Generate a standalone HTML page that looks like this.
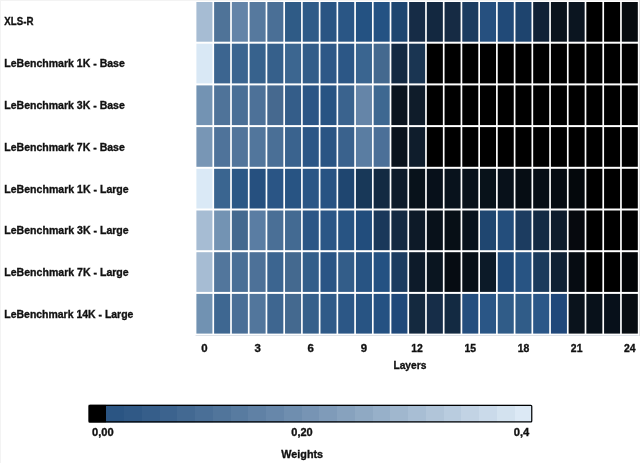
<!DOCTYPE html>
<html><head><meta charset="utf-8"><style>
html,body{margin:0;padding:0;background:#fff;width:640px;height:463px;overflow:hidden;font-family:"Liberation Sans",sans-serif;}
</style></head><body>
<svg width="640" height="463" style="position:absolute;left:0;top:0;will-change:transform">
<rect x="0" y="0" width="640" height="463" fill="#fff"/>
<rect x="0" y="0" width="1" height="463" fill="#f3f3f3"/>
<rect x="0" y="0" width="640" height="1" fill="#f3f3f3"/>
<rect x="196.40" y="2.00" width="16.03" height="39.70" fill="#a6bcd3"/>
<rect x="214.12" y="2.00" width="16.03" height="39.70" fill="#4f7398"/>
<rect x="231.85" y="2.00" width="16.03" height="39.70" fill="#6384a8"/>
<rect x="249.58" y="2.00" width="16.03" height="39.70" fill="#56799e"/>
<rect x="267.30" y="2.00" width="16.03" height="39.70" fill="#4a6f96"/>
<rect x="285.03" y="2.00" width="16.03" height="39.70" fill="#2f5b86"/>
<rect x="302.75" y="2.00" width="16.03" height="39.70" fill="#2f5b88"/>
<rect x="320.48" y="2.00" width="16.03" height="39.70" fill="#2a5583"/>
<rect x="338.20" y="2.00" width="16.03" height="39.70" fill="#2a5685"/>
<rect x="355.93" y="2.00" width="16.03" height="39.70" fill="#245282"/>
<rect x="373.65" y="2.00" width="16.03" height="39.70" fill="#245283"/>
<rect x="391.38" y="2.00" width="16.03" height="39.70" fill="#1e4670"/>
<rect x="409.10" y="2.00" width="16.03" height="39.70" fill="#162c46"/>
<rect x="426.83" y="2.00" width="16.03" height="39.70" fill="#132840"/>
<rect x="444.55" y="2.00" width="16.03" height="39.70" fill="#162b44"/>
<rect x="462.28" y="2.00" width="16.03" height="39.70" fill="#1c3c60"/>
<rect x="480.00" y="2.00" width="16.03" height="39.70" fill="#26507f"/>
<rect x="497.73" y="2.00" width="16.03" height="39.70" fill="#214a78"/>
<rect x="515.45" y="2.00" width="16.03" height="39.70" fill="#1e446e"/>
<rect x="533.18" y="2.00" width="16.03" height="39.70" fill="#102136"/>
<rect x="550.90" y="2.00" width="16.03" height="39.70" fill="#0a131c"/>
<rect x="568.63" y="2.00" width="16.03" height="39.70" fill="#0b1520"/>
<rect x="586.35" y="2.00" width="16.03" height="39.70" fill="#000000"/>
<rect x="604.08" y="2.00" width="16.03" height="39.70" fill="#000000"/>
<rect x="621.80" y="2.00" width="16.03" height="39.70" fill="#070c10"/>
<rect x="196.40" y="43.70" width="16.03" height="39.70" fill="#d9e8f5"/>
<rect x="214.12" y="43.70" width="16.03" height="39.70" fill="#3c6590"/>
<rect x="231.85" y="43.70" width="16.03" height="39.70" fill="#3b6590"/>
<rect x="249.58" y="43.70" width="16.03" height="39.70" fill="#37628d"/>
<rect x="267.30" y="43.70" width="16.03" height="39.70" fill="#36608b"/>
<rect x="285.03" y="43.70" width="16.03" height="39.70" fill="#3c6690"/>
<rect x="302.75" y="43.70" width="16.03" height="39.70" fill="#335d89"/>
<rect x="320.48" y="43.70" width="16.03" height="39.70" fill="#2e5887"/>
<rect x="338.20" y="43.70" width="16.03" height="39.70" fill="#2c5786"/>
<rect x="355.93" y="43.70" width="16.03" height="39.70" fill="#3a6590"/>
<rect x="373.65" y="43.70" width="16.03" height="39.70" fill="#44698f"/>
<rect x="391.38" y="43.70" width="16.03" height="39.70" fill="#142a42"/>
<rect x="409.10" y="43.70" width="16.03" height="39.70" fill="#1a3552"/>
<rect x="426.83" y="43.70" width="16.03" height="39.70" fill="#000000"/>
<rect x="444.55" y="43.70" width="16.03" height="39.70" fill="#000000"/>
<rect x="462.28" y="43.70" width="16.03" height="39.70" fill="#000000"/>
<rect x="480.00" y="43.70" width="16.03" height="39.70" fill="#000000"/>
<rect x="497.73" y="43.70" width="16.03" height="39.70" fill="#000000"/>
<rect x="515.45" y="43.70" width="16.03" height="39.70" fill="#000000"/>
<rect x="533.18" y="43.70" width="16.03" height="39.70" fill="#000000"/>
<rect x="550.90" y="43.70" width="16.03" height="39.70" fill="#000000"/>
<rect x="568.63" y="43.70" width="16.03" height="39.70" fill="#000000"/>
<rect x="586.35" y="43.70" width="16.03" height="39.70" fill="#000000"/>
<rect x="604.08" y="43.70" width="16.03" height="39.70" fill="#000000"/>
<rect x="621.80" y="43.70" width="16.03" height="39.70" fill="#000000"/>
<rect x="196.40" y="85.40" width="16.03" height="39.70" fill="#7393b3"/>
<rect x="214.12" y="85.40" width="16.03" height="39.70" fill="#4f7399"/>
<rect x="231.85" y="85.40" width="16.03" height="39.70" fill="#4a6f96"/>
<rect x="249.58" y="85.40" width="16.03" height="39.70" fill="#4d7198"/>
<rect x="267.30" y="85.40" width="16.03" height="39.70" fill="#46698f"/>
<rect x="285.03" y="85.40" width="16.03" height="39.70" fill="#345d89"/>
<rect x="302.75" y="85.40" width="16.03" height="39.70" fill="#2b5585"/>
<rect x="320.48" y="85.40" width="16.03" height="39.70" fill="#285483"/>
<rect x="338.20" y="85.40" width="16.03" height="39.70" fill="#3a638e"/>
<rect x="355.93" y="85.40" width="16.03" height="39.70" fill="#6585a8"/>
<rect x="373.65" y="85.40" width="16.03" height="39.70" fill="#3e6891"/>
<rect x="391.38" y="85.40" width="16.03" height="39.70" fill="#0a141e"/>
<rect x="409.10" y="85.40" width="16.03" height="39.70" fill="#0f1c2a"/>
<rect x="426.83" y="85.40" width="16.03" height="39.70" fill="#000000"/>
<rect x="444.55" y="85.40" width="16.03" height="39.70" fill="#000000"/>
<rect x="462.28" y="85.40" width="16.03" height="39.70" fill="#000000"/>
<rect x="480.00" y="85.40" width="16.03" height="39.70" fill="#000000"/>
<rect x="497.73" y="85.40" width="16.03" height="39.70" fill="#000000"/>
<rect x="515.45" y="85.40" width="16.03" height="39.70" fill="#000000"/>
<rect x="533.18" y="85.40" width="16.03" height="39.70" fill="#000000"/>
<rect x="550.90" y="85.40" width="16.03" height="39.70" fill="#000000"/>
<rect x="568.63" y="85.40" width="16.03" height="39.70" fill="#000000"/>
<rect x="586.35" y="85.40" width="16.03" height="39.70" fill="#000000"/>
<rect x="604.08" y="85.40" width="16.03" height="39.70" fill="#000000"/>
<rect x="621.80" y="85.40" width="16.03" height="39.70" fill="#000000"/>
<rect x="196.40" y="127.10" width="16.03" height="39.70" fill="#7896b5"/>
<rect x="214.12" y="127.10" width="16.03" height="39.70" fill="#4f739a"/>
<rect x="231.85" y="127.10" width="16.03" height="39.70" fill="#52759b"/>
<rect x="249.58" y="127.10" width="16.03" height="39.70" fill="#52769c"/>
<rect x="267.30" y="127.10" width="16.03" height="39.70" fill="#4a6f96"/>
<rect x="285.03" y="127.10" width="16.03" height="39.70" fill="#3a638e"/>
<rect x="302.75" y="127.10" width="16.03" height="39.70" fill="#2b5686"/>
<rect x="320.48" y="127.10" width="16.03" height="39.70" fill="#2a5584"/>
<rect x="338.20" y="127.10" width="16.03" height="39.70" fill="#3a628d"/>
<rect x="355.93" y="127.10" width="16.03" height="39.70" fill="#5a7da2"/>
<rect x="373.65" y="127.10" width="16.03" height="39.70" fill="#4c7098"/>
<rect x="391.38" y="127.10" width="16.03" height="39.70" fill="#0a131d"/>
<rect x="409.10" y="127.10" width="16.03" height="39.70" fill="#0f1d2c"/>
<rect x="426.83" y="127.10" width="16.03" height="39.70" fill="#000000"/>
<rect x="444.55" y="127.10" width="16.03" height="39.70" fill="#000000"/>
<rect x="462.28" y="127.10" width="16.03" height="39.70" fill="#000000"/>
<rect x="480.00" y="127.10" width="16.03" height="39.70" fill="#000000"/>
<rect x="497.73" y="127.10" width="16.03" height="39.70" fill="#000000"/>
<rect x="515.45" y="127.10" width="16.03" height="39.70" fill="#000000"/>
<rect x="533.18" y="127.10" width="16.03" height="39.70" fill="#000000"/>
<rect x="550.90" y="127.10" width="16.03" height="39.70" fill="#000000"/>
<rect x="568.63" y="127.10" width="16.03" height="39.70" fill="#000000"/>
<rect x="586.35" y="127.10" width="16.03" height="39.70" fill="#000000"/>
<rect x="604.08" y="127.10" width="16.03" height="39.70" fill="#000000"/>
<rect x="621.80" y="127.10" width="16.03" height="39.70" fill="#000000"/>
<rect x="196.40" y="168.80" width="16.03" height="39.70" fill="#dae9f6"/>
<rect x="214.12" y="168.80" width="16.03" height="39.70" fill="#3a6590"/>
<rect x="231.85" y="168.80" width="16.03" height="39.70" fill="#2b5886"/>
<rect x="249.58" y="168.80" width="16.03" height="39.70" fill="#26507f"/>
<rect x="267.30" y="168.80" width="16.03" height="39.70" fill="#2a5585"/>
<rect x="285.03" y="168.80" width="16.03" height="39.70" fill="#285483"/>
<rect x="302.75" y="168.80" width="16.03" height="39.70" fill="#2a5686"/>
<rect x="320.48" y="168.80" width="16.03" height="39.70" fill="#285383"/>
<rect x="338.20" y="168.80" width="16.03" height="39.70" fill="#1f4670"/>
<rect x="355.93" y="168.80" width="16.03" height="39.70" fill="#183858"/>
<rect x="373.65" y="168.80" width="16.03" height="39.70" fill="#132a42"/>
<rect x="391.38" y="168.80" width="16.03" height="39.70" fill="#0e1c2b"/>
<rect x="409.10" y="168.80" width="16.03" height="39.70" fill="#08121b"/>
<rect x="426.83" y="168.80" width="16.03" height="39.70" fill="#07101a"/>
<rect x="444.55" y="168.80" width="16.03" height="39.70" fill="#08121c"/>
<rect x="462.28" y="168.80" width="16.03" height="39.70" fill="#08111a"/>
<rect x="480.00" y="168.80" width="16.03" height="39.70" fill="#08121a"/>
<rect x="497.73" y="168.80" width="16.03" height="39.70" fill="#08111a"/>
<rect x="515.45" y="168.80" width="16.03" height="39.70" fill="#060d14"/>
<rect x="533.18" y="168.80" width="16.03" height="39.70" fill="#070e15"/>
<rect x="550.90" y="168.80" width="16.03" height="39.70" fill="#060c12"/>
<rect x="568.63" y="168.80" width="16.03" height="39.70" fill="#04080c"/>
<rect x="586.35" y="168.80" width="16.03" height="39.70" fill="#000000"/>
<rect x="604.08" y="168.80" width="16.03" height="39.70" fill="#000000"/>
<rect x="621.80" y="168.80" width="16.03" height="39.70" fill="#000000"/>
<rect x="196.40" y="210.50" width="16.03" height="39.70" fill="#a6bcd3"/>
<rect x="214.12" y="210.50" width="16.03" height="39.70" fill="#7393b3"/>
<rect x="231.85" y="210.50" width="16.03" height="39.70" fill="#44698f"/>
<rect x="249.58" y="210.50" width="16.03" height="39.70" fill="#5a7da3"/>
<rect x="267.30" y="210.50" width="16.03" height="39.70" fill="#4a6f96"/>
<rect x="285.03" y="210.50" width="16.03" height="39.70" fill="#436a92"/>
<rect x="302.75" y="210.50" width="16.03" height="39.70" fill="#2b5686"/>
<rect x="320.48" y="210.50" width="16.03" height="39.70" fill="#2b5686"/>
<rect x="338.20" y="210.50" width="16.03" height="39.70" fill="#285483"/>
<rect x="355.93" y="210.50" width="16.03" height="39.70" fill="#224d7c"/>
<rect x="373.65" y="210.50" width="16.03" height="39.70" fill="#1a385a"/>
<rect x="391.38" y="210.50" width="16.03" height="39.70" fill="#142a42"/>
<rect x="409.10" y="210.50" width="16.03" height="39.70" fill="#0d1a28"/>
<rect x="426.83" y="210.50" width="16.03" height="39.70" fill="#08111a"/>
<rect x="444.55" y="210.50" width="16.03" height="39.70" fill="#070f16"/>
<rect x="462.28" y="210.50" width="16.03" height="39.70" fill="#08121c"/>
<rect x="480.00" y="210.50" width="16.03" height="39.70" fill="#1f4670"/>
<rect x="497.73" y="210.50" width="16.03" height="39.70" fill="#244e7c"/>
<rect x="515.45" y="210.50" width="16.03" height="39.70" fill="#1c3c60"/>
<rect x="533.18" y="210.50" width="16.03" height="39.70" fill="#132a44"/>
<rect x="550.90" y="210.50" width="16.03" height="39.70" fill="#0e1c2c"/>
<rect x="568.63" y="210.50" width="16.03" height="39.70" fill="#06090e"/>
<rect x="586.35" y="210.50" width="16.03" height="39.70" fill="#000000"/>
<rect x="604.08" y="210.50" width="16.03" height="39.70" fill="#000000"/>
<rect x="621.80" y="210.50" width="16.03" height="39.70" fill="#000000"/>
<rect x="196.40" y="252.20" width="16.03" height="39.70" fill="#a6bcd3"/>
<rect x="214.12" y="252.20" width="16.03" height="39.70" fill="#52769c"/>
<rect x="231.85" y="252.20" width="16.03" height="39.70" fill="#4a6f96"/>
<rect x="249.58" y="252.20" width="16.03" height="39.70" fill="#4d7198"/>
<rect x="267.30" y="252.20" width="16.03" height="39.70" fill="#3c6590"/>
<rect x="285.03" y="252.20" width="16.03" height="39.70" fill="#44698f"/>
<rect x="302.75" y="252.20" width="16.03" height="39.70" fill="#335e8a"/>
<rect x="320.48" y="252.20" width="16.03" height="39.70" fill="#2a5585"/>
<rect x="338.20" y="252.20" width="16.03" height="39.70" fill="#335d89"/>
<rect x="355.93" y="252.20" width="16.03" height="39.70" fill="#285483"/>
<rect x="373.65" y="252.20" width="16.03" height="39.70" fill="#245182"/>
<rect x="391.38" y="252.20" width="16.03" height="39.70" fill="#1c3c60"/>
<rect x="409.10" y="252.20" width="16.03" height="39.70" fill="#0d1b2a"/>
<rect x="426.83" y="252.20" width="16.03" height="39.70" fill="#0a1520"/>
<rect x="444.55" y="252.20" width="16.03" height="39.70" fill="#060c12"/>
<rect x="462.28" y="252.20" width="16.03" height="39.70" fill="#070f17"/>
<rect x="480.00" y="252.20" width="16.03" height="39.70" fill="#0c1a28"/>
<rect x="497.73" y="252.20" width="16.03" height="39.70" fill="#204a78"/>
<rect x="515.45" y="252.20" width="16.03" height="39.70" fill="#285483"/>
<rect x="533.18" y="252.20" width="16.03" height="39.70" fill="#1a3a5c"/>
<rect x="550.90" y="252.20" width="16.03" height="39.70" fill="#0f2134"/>
<rect x="568.63" y="252.20" width="16.03" height="39.70" fill="#060c12"/>
<rect x="586.35" y="252.20" width="16.03" height="39.70" fill="#000000"/>
<rect x="604.08" y="252.20" width="16.03" height="39.70" fill="#000000"/>
<rect x="621.80" y="252.20" width="16.03" height="39.70" fill="#020406"/>
<rect x="196.40" y="293.90" width="16.03" height="39.70" fill="#7192b2"/>
<rect x="214.12" y="293.90" width="16.03" height="39.70" fill="#3e6791"/>
<rect x="231.85" y="293.90" width="16.03" height="39.70" fill="#4a6f97"/>
<rect x="249.58" y="293.90" width="16.03" height="39.70" fill="#52769c"/>
<rect x="267.30" y="293.90" width="16.03" height="39.70" fill="#3e6690"/>
<rect x="285.03" y="293.90" width="16.03" height="39.70" fill="#44698f"/>
<rect x="302.75" y="293.90" width="16.03" height="39.70" fill="#36608b"/>
<rect x="320.48" y="293.90" width="16.03" height="39.70" fill="#2f5a88"/>
<rect x="338.20" y="293.90" width="16.03" height="39.70" fill="#2c5786"/>
<rect x="355.93" y="293.90" width="16.03" height="39.70" fill="#285483"/>
<rect x="373.65" y="293.90" width="16.03" height="39.70" fill="#255182"/>
<rect x="391.38" y="293.90" width="16.03" height="39.70" fill="#20497a"/>
<rect x="409.10" y="293.90" width="16.03" height="39.70" fill="#14293f"/>
<rect x="426.83" y="293.90" width="16.03" height="39.70" fill="#162d48"/>
<rect x="444.55" y="293.90" width="16.03" height="39.70" fill="#132a42"/>
<rect x="462.28" y="293.90" width="16.03" height="39.70" fill="#244e7e"/>
<rect x="480.00" y="293.90" width="16.03" height="39.70" fill="#2a5686"/>
<rect x="497.73" y="293.90" width="16.03" height="39.70" fill="#305c88"/>
<rect x="515.45" y="293.90" width="16.03" height="39.70" fill="#305c88"/>
<rect x="533.18" y="293.90" width="16.03" height="39.70" fill="#2b5788"/>
<rect x="550.90" y="293.90" width="16.03" height="39.70" fill="#20487a"/>
<rect x="568.63" y="293.90" width="16.03" height="39.70" fill="#0a131c"/>
<rect x="586.35" y="293.90" width="16.03" height="39.70" fill="#08111a"/>
<rect x="604.08" y="293.90" width="16.03" height="39.70" fill="#07101a"/>
<rect x="621.80" y="293.90" width="16.03" height="39.70" fill="#080d12"/>
<rect x="195.55" y="335" width="443.13" height="1" fill="#dde2e8"/>
<rect x="639" y="0" width="1" height="336" fill="#e0e0e0"/>
<defs><linearGradient id="cb" x1="0" y1="0" x2="1" y2="0"><stop offset="0.0000" stop-color="#000000"/><stop offset="0.0400" stop-color="#000000"/><stop offset="0.0400" stop-color="#2b5583"/><stop offset="0.0800" stop-color="#2b5583"/><stop offset="0.0800" stop-color="#305986"/><stop offset="0.1200" stop-color="#305986"/><stop offset="0.1200" stop-color="#365e8a"/><stop offset="0.1600" stop-color="#365e8a"/><stop offset="0.1600" stop-color="#3c638e"/><stop offset="0.2000" stop-color="#3c638e"/><stop offset="0.2000" stop-color="#436992"/><stop offset="0.2400" stop-color="#436992"/><stop offset="0.2400" stop-color="#4a6f97"/><stop offset="0.2800" stop-color="#4a6f97"/><stop offset="0.2800" stop-color="#51759b"/><stop offset="0.3200" stop-color="#51759b"/><stop offset="0.3200" stop-color="#587ba0"/><stop offset="0.3600" stop-color="#587ba0"/><stop offset="0.3600" stop-color="#6081a5"/><stop offset="0.4000" stop-color="#6081a5"/><stop offset="0.4000" stop-color="#6787aa"/><stop offset="0.4400" stop-color="#6787aa"/><stop offset="0.4400" stop-color="#6f8eaf"/><stop offset="0.4800" stop-color="#6f8eaf"/><stop offset="0.4800" stop-color="#7794b4"/><stop offset="0.5200" stop-color="#7794b4"/><stop offset="0.5200" stop-color="#7f9bb9"/><stop offset="0.5600" stop-color="#7f9bb9"/><stop offset="0.5600" stop-color="#87a2be"/><stop offset="0.6000" stop-color="#87a2be"/><stop offset="0.6000" stop-color="#8fa9c3"/><stop offset="0.6400" stop-color="#8fa9c3"/><stop offset="0.6400" stop-color="#97b0c9"/><stop offset="0.6800" stop-color="#97b0c9"/><stop offset="0.6800" stop-color="#a0b7ce"/><stop offset="0.7200" stop-color="#a0b7ce"/><stop offset="0.7200" stop-color="#a8bed4"/><stop offset="0.7600" stop-color="#a8bed4"/><stop offset="0.7600" stop-color="#b1c5d9"/><stop offset="0.8000" stop-color="#b1c5d9"/><stop offset="0.8000" stop-color="#b9ccdf"/><stop offset="0.8400" stop-color="#b9ccdf"/><stop offset="0.8400" stop-color="#c2d3e4"/><stop offset="0.8800" stop-color="#c2d3e4"/><stop offset="0.8800" stop-color="#cadaea"/><stop offset="0.9200" stop-color="#cadaea"/><stop offset="0.9200" stop-color="#d3e2ef"/><stop offset="0.9600" stop-color="#d3e2ef"/><stop offset="0.9600" stop-color="#dce9f5"/><stop offset="1.0000" stop-color="#dce9f5"/></linearGradient></defs>
<rect x="88.60" y="404.80" width="443.70" height="17.70" fill="url(#cb)"/>
<rect x="89.15" y="405.35" width="442.60" height="16.60" fill="none" stroke="#000" stroke-width="1.2" rx="1"/>
<text x="4.3" y="25.40" font-family="Liberation Sans" font-weight="bold" fill="#111" stroke="#111" stroke-width="0.35" font-size="11.4" textLength="29.1" lengthAdjust="spacingAndGlyphs">XLS-R</text>
<text x="4.3" y="67.20" font-family="Liberation Sans" font-weight="bold" fill="#111" stroke="#111" stroke-width="0.35" font-size="11.4" textLength="120.5" lengthAdjust="spacingAndGlyphs">LeBenchmark 1K - Base</text>
<text x="4.3" y="109.00" font-family="Liberation Sans" font-weight="bold" fill="#111" stroke="#111" stroke-width="0.35" font-size="11.4" textLength="120.5" lengthAdjust="spacingAndGlyphs">LeBenchmark 3K - Base</text>
<text x="4.3" y="150.80" font-family="Liberation Sans" font-weight="bold" fill="#111" stroke="#111" stroke-width="0.35" font-size="11.4" textLength="120.5" lengthAdjust="spacingAndGlyphs">LeBenchmark 7K - Base</text>
<text x="4.3" y="192.60" font-family="Liberation Sans" font-weight="bold" fill="#111" stroke="#111" stroke-width="0.35" font-size="11.4" textLength="124.4" lengthAdjust="spacingAndGlyphs">LeBenchmark 1K - Large</text>
<text x="4.3" y="234.40" font-family="Liberation Sans" font-weight="bold" fill="#111" stroke="#111" stroke-width="0.35" font-size="11.4" textLength="124.4" lengthAdjust="spacingAndGlyphs">LeBenchmark 3K - Large</text>
<text x="4.3" y="276.20" font-family="Liberation Sans" font-weight="bold" fill="#111" stroke="#111" stroke-width="0.35" font-size="11.4" textLength="124.4" lengthAdjust="spacingAndGlyphs">LeBenchmark 7K - Large</text>
<text x="4.3" y="318.00" font-family="Liberation Sans" font-weight="bold" fill="#111" stroke="#111" stroke-width="0.35" font-size="11.4" textLength="129.1" lengthAdjust="spacingAndGlyphs">LeBenchmark 14K - Large</text>
<text x="204.41" y="352" font-family="Liberation Sans" font-weight="bold" fill="#111" stroke="#111" stroke-width="0.35" font-size="11.4" text-anchor="middle">0</text>
<text x="257.59" y="352" font-family="Liberation Sans" font-weight="bold" fill="#111" stroke="#111" stroke-width="0.35" font-size="11.4" text-anchor="middle">3</text>
<text x="310.76" y="352" font-family="Liberation Sans" font-weight="bold" fill="#111" stroke="#111" stroke-width="0.35" font-size="11.4" text-anchor="middle">6</text>
<text x="363.94" y="352" font-family="Liberation Sans" font-weight="bold" fill="#111" stroke="#111" stroke-width="0.35" font-size="11.4" text-anchor="middle">9</text>
<text x="417.11" y="352" font-family="Liberation Sans" font-weight="bold" fill="#111" stroke="#111" stroke-width="0.35" font-size="11.4" text-anchor="middle" textLength="11.6" lengthAdjust="spacingAndGlyphs">12</text>
<text x="470.29" y="352" font-family="Liberation Sans" font-weight="bold" fill="#111" stroke="#111" stroke-width="0.35" font-size="11.4" text-anchor="middle" textLength="11.6" lengthAdjust="spacingAndGlyphs">15</text>
<text x="523.46" y="352" font-family="Liberation Sans" font-weight="bold" fill="#111" stroke="#111" stroke-width="0.35" font-size="11.4" text-anchor="middle" textLength="11.6" lengthAdjust="spacingAndGlyphs">18</text>
<text x="576.64" y="352" font-family="Liberation Sans" font-weight="bold" fill="#111" stroke="#111" stroke-width="0.35" font-size="11.4" text-anchor="middle" textLength="11.6" lengthAdjust="spacingAndGlyphs">21</text>
<text x="629.81" y="352" font-family="Liberation Sans" font-weight="bold" fill="#111" stroke="#111" stroke-width="0.35" font-size="11.4" text-anchor="middle" textLength="11.6" lengthAdjust="spacingAndGlyphs">24</text>
<text x="409.90" y="368.5" font-family="Liberation Sans" font-weight="bold" fill="#111" stroke="#111" stroke-width="0.35" font-size="11.4" text-anchor="middle" textLength="33.0" lengthAdjust="spacingAndGlyphs">Layers</text>
<text x="102.80" y="435.6" font-family="Liberation Sans" font-weight="bold" fill="#111" stroke="#111" stroke-width="0.35" font-size="11.4" text-anchor="middle" textLength="21.6" lengthAdjust="spacingAndGlyphs">0,00</text>
<text x="302.00" y="435.6" font-family="Liberation Sans" font-weight="bold" fill="#111" stroke="#111" stroke-width="0.35" font-size="11.4" text-anchor="middle" textLength="21.4" lengthAdjust="spacingAndGlyphs">0,20</text>
<text x="521.50" y="435.6" font-family="Liberation Sans" font-weight="bold" fill="#111" stroke="#111" stroke-width="0.35" font-size="11.4" text-anchor="middle" textLength="15.5" lengthAdjust="spacingAndGlyphs">0,4</text>
<text x="302.20" y="458.2" font-family="Liberation Sans" font-weight="bold" fill="#111" stroke="#111" stroke-width="0.35" font-size="11.4" text-anchor="middle" textLength="41.8" lengthAdjust="spacingAndGlyphs">Weights</text>
</svg>
</body></html>
